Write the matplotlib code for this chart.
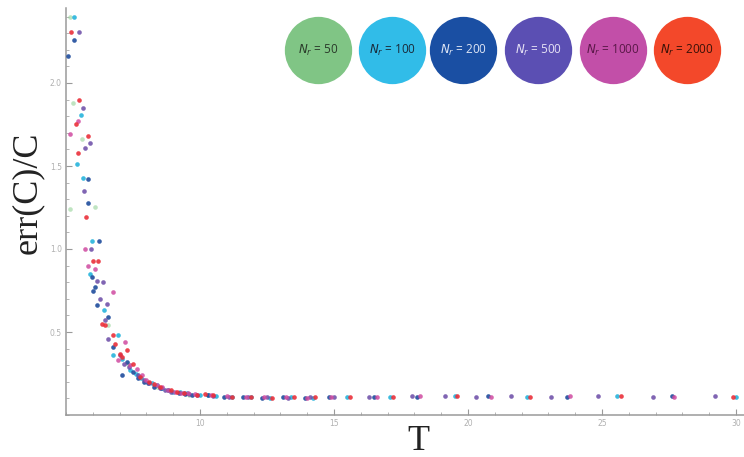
import matplotlib
matplotlib.use("Agg")
import matplotlib.pyplot as plt
from matplotlib.ticker import MultipleLocator, FixedLocator

# ---------------- data ----------------
labels = ["50", "100", "200", "500", "1000", "2000"]
colors = ["#80c585", "#31bce8", "#1a4fa3", "#5b4fb3", "#c24fa8", "#f3482a"]
text_colors = ["#2a3a2a", "#1a2a3a", "#dfe6f5", "#e6e2f5", "#5a1848", "#3a1208"]
point_colors = ["#8ccf8f", "#27b4dc", "#1f4c9c", "#6a4aa6", "#cf4aa0", "#ea2f3a"]
point_alpha = [0.55, 0.9, 0.9, 0.85, 0.85, 0.9]

T50 = [5.15, 5.26, 5.6, 5.15, 6.08, 6.57, 7.3, 8.4, 9.6]
E50 = [2.40, 1.88, 1.66, 1.24, 1.25, 0.54, 0.31, 0.17, 0.12]

T100 = [5.3, 5.56, 5.4, 5.63, 5.97, 5.9, 6.42, 6.94, 6.75, 7.1, 7.4, 7.6, 7.8, 8.2, 8.4,
        8.6, 9.0, 9.25, 9.5, 10.0, 10.3, 10.6, 11.2, 11.9, 12.6, 13.4, 14.2, 15.5, 17.1,
        19.5, 22.2, 25.56, 30.0]
E100 = [2.40, 1.81, 1.51, 1.43, 1.05, 0.85, 0.63, 0.48, 0.36, 0.34, 0.27, 0.25, 0.22, 0.19, 0.18,
        0.16, 0.14, 0.14, 0.13, 0.12, 0.12, 0.115, 0.11, 0.11, 0.105, 0.11, 0.105, 0.11, 0.11,
        0.115, 0.11, 0.115, 0.11]

T200 = [5.3, 5.07, 5.82, 5.82, 6.23, 5.97, 6.08, 6.0, 6.16, 6.57, 6.75, 7.28, 7.1, 7.5,
        7.7, 7.9, 8.05, 8.3, 8.55, 8.8, 9.2, 9.45, 9.7, 10.3, 10.9, 11.6, 12.3, 13.1, 13.9,
        14.8, 16.5, 18.1, 20.75, 23.7, 27.6]
E200 = [2.26, 2.16, 1.42, 1.28, 1.05, 0.83, 0.77, 0.75, 0.66, 0.59, 0.41, 0.32, 0.24, 0.26,
        0.22, 0.20, 0.19, 0.17, 0.16, 0.15, 0.13, 0.125, 0.12, 0.12, 0.11, 0.11, 0.105, 0.11,
        0.105, 0.11, 0.11, 0.11, 0.115, 0.11, 0.115]

T500 = [5.5, 5.63, 5.7, 5.9, 5.67, 5.93, 6.16, 6.38, 6.27, 6.53, 6.46, 6.57, 7.0, 7.15,
        7.35, 7.7, 7.9, 8.1, 8.5, 8.7, 8.9, 9.4, 9.6, 9.9, 10.5, 11.1, 11.8, 12.5, 13.3,
        14.1, 15.0, 16.3, 17.9, 19.14, 20.3, 21.6, 23.1, 24.85, 26.9, 29.2]
E500 = [2.31, 1.85, 1.61, 1.64, 1.35, 1.00, 0.81, 0.80, 0.70, 0.67, 0.57, 0.46, 0.36, 0.31,
        0.29, 0.24, 0.21, 0.19, 0.16, 0.15, 0.14, 0.13, 0.125, 0.12, 0.115, 0.11, 0.11, 0.11,
        0.105, 0.11, 0.11, 0.11, 0.115, 0.115, 0.11, 0.115, 0.11, 0.115, 0.11, 0.115]

T1000 = [5.45, 5.15, 5.71, 5.82, 6.08, 6.75, 7.2, 6.94, 7.4, 7.65, 7.85, 8.0, 8.4, 8.6,
         8.8, 9.05, 9.3, 9.55, 9.8, 10.4, 11.0, 11.7, 12.4, 13.2, 14.0, 14.9, 16.6, 18.2,
         20.85, 23.8, 27.7]
E1000 = [1.77, 1.69, 1.00, 0.90, 0.88, 0.74, 0.44, 0.33, 0.30, 0.28, 0.24, 0.21, 0.18, 0.17,
         0.15, 0.14, 0.13, 0.13, 0.125, 0.12, 0.115, 0.11, 0.11, 0.11, 0.105, 0.11, 0.11,
         0.115, 0.11, 0.115, 0.11]

T2000 = [5.2, 5.5, 5.37, 5.82, 5.45, 5.75, 6.0, 6.19, 6.34, 6.46, 6.75, 6.83, 7.0, 7.28,
         7.1, 7.5, 7.76, 8.1, 8.3, 8.5, 8.9, 9.15, 9.4, 9.9, 10.2, 10.5, 11.2, 11.9, 12.7,
         13.5, 14.3, 15.6, 17.2, 19.6, 22.3, 25.7, 29.9]
E2000 = [2.31, 1.90, 1.75, 1.68, 1.58, 1.19, 0.93, 0.93, 0.55, 0.54, 0.48, 0.43, 0.37, 0.39,
         0.35, 0.31, 0.23, 0.20, 0.185, 0.17, 0.15, 0.14, 0.13, 0.12, 0.125, 0.12, 0.11, 0.11,
         0.105, 0.11, 0.11, 0.11, 0.11, 0.115, 0.11, 0.115, 0.11]

series_T = [T50, T100, T200, T500, T1000, T2000]
series_E = [E50, E100, E200, E500, E1000, E2000]

x_ticks = [10, 15, 20, 25, 30]
y_ticks = [0.5, 1.0, 1.5, 2.0]

# ---------------- figure ----------------
W, H = 744, 457
fig = plt.figure(figsize=(W / 100, H / 100), dpi=100)
fig.patch.set_facecolor("white")
ax = fig.add_axes([66 / W, 1 - 415 / H, (W - 66) / W, (415 - 8) / H])
ax.set_xlim(5, 5 + (W - 66) / 26.8)
ax.set_ylim(0, (415 - 8) / 166.0)

for T, E, c, a in zip(series_T, series_E, point_colors, point_alpha):
    ax.scatter(T, E, s=11, color=c, alpha=a, linewidths=0, zorder=3, clip_on=False)

for s in ["top", "right"]:
    ax.spines[s].set_visible(False)
for s in ["left", "bottom"]:
    ax.spines[s].set_color("#9a9a9a")
    ax.spines[s].set_linewidth(1.1)

ax.xaxis.set_major_locator(FixedLocator(x_ticks))
ax.xaxis.set_minor_locator(MultipleLocator(1))
ax.yaxis.set_major_locator(FixedLocator(y_ticks))
ax.yaxis.set_minor_locator(MultipleLocator(0.1))
ax.set_xticklabels([str(v) for v in x_ticks])
ax.set_yticklabels(["%.1f" % v for v in y_ticks])
ax.tick_params(which="major", direction="in", length=4, width=0.8, color="#9a9a9a",
               labelsize=5.5, labelcolor="#b0b0b0", pad=3)
ax.tick_params(which="minor", direction="in", length=2.5, width=0.6, color="#a8a8a8")

fig.text(27 / W, 1 - 193 / H, "err(C)/C", rotation=90, ha="center", va="center",
         fontsize=26, family="Liberation Serif", color="#222222")
fig.text(418 / W, 1 - 441 / H, "T", ha="center", va="center",
         fontsize=26, family="Liberation Serif", color="#222222")

# legend circles
cx = [318, 392, 463, 538, 613, 687]
cy = 50
for x, lab, c, tc in zip(cx, labels, colors, text_colors):
    ax.scatter([x / W], [1 - cy / H], s=2350, color=c, transform=fig.transFigure,
               clip_on=False, zorder=5, linewidths=0)
    ax.text(x / W, 1 - cy / H, r"$N_r$ = " + lab, transform=fig.transFigure,
            ha="center", va="center", fontsize=8.5, color=tc, zorder=6,
            family="Open Sans")

fig.savefig("out.png", dpi=100, facecolor="white")
